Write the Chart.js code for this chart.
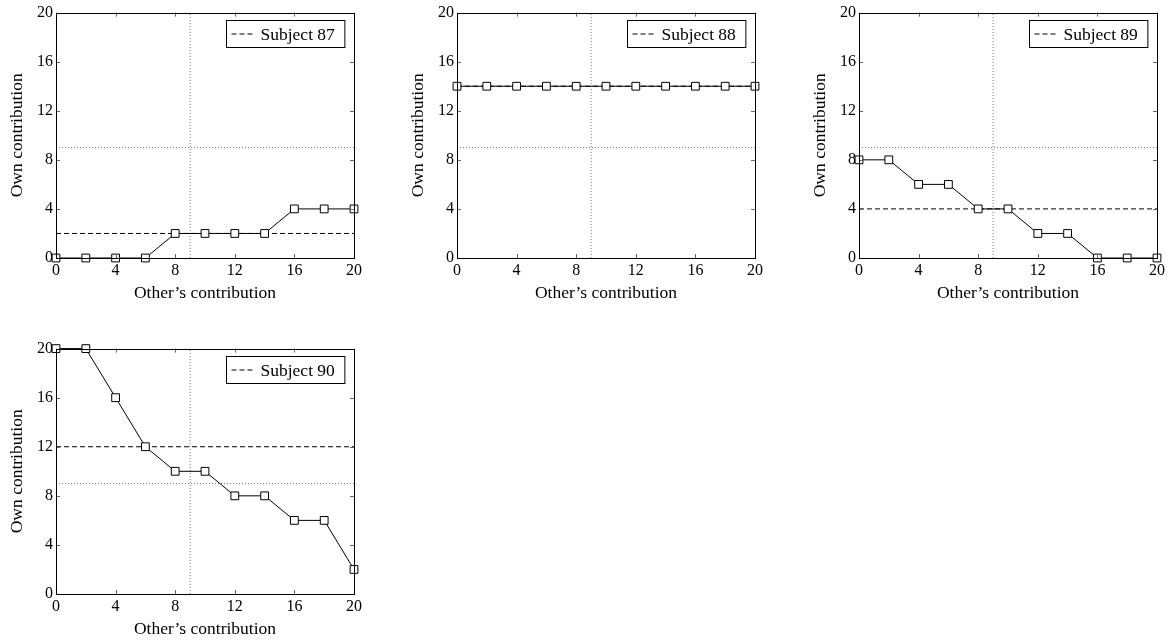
<!DOCTYPE html>
<html lang="en">
<head>
    <meta charset="UTF-8">
    <title>Own vs other's contribution</title>
    <script src="https://cdn.jsdelivr.net/npm/chart.js"></script>
    <style>
        body {
            margin: 0;
            padding: 0;
            background: #fff;
        }
        .panel {
            position: absolute;
            width: 370px;
            height: 304px;
        }
    </style>
</head>
<body>
    <canvas class="panel" id="c87" width="370" height="304" style="left:0px;top:0px"></canvas>
    <canvas class="panel" id="c88" width="370" height="304" style="left:401px;top:0px"></canvas>
    <canvas class="panel" id="c89" width="370" height="304" style="left:803px;top:0px"></canvas>
    <canvas class="panel" id="c90" width="370" height="304" style="left:0px;top:336px"></canvas>

    <script>
        // data
        const otherContribution = [0, 2, 4, 6, 8, 10, 12, 14, 16, 18, 20];
        const subject87 = [0, 0, 0, 0, 2, 2, 2, 2, 4, 4, 4];
        const subject88 = [14, 14, 14, 14, 14, 14, 14, 14, 14, 14, 14];
        const subject89 = [8, 8, 6, 6, 4, 4, 2, 2, 0, 0, 0];
        const subject90 = [20, 20, 16, 12, 10, 10, 8, 8, 6, 6, 2];
        const subjectIds = [87, 88, 89, 90];
        const subjectMeans = [2, 14, 4, 12];
        const referenceLevel = 9;
        const tickValues = [0, 4, 8, 12, 16, 20];

        const serif = "'Liberation Serif', 'DejaVu Serif', serif";

        // frame + inward ticks on all four sides
        const framePlugin = {
            id: 'frame',
            afterDatasetsDraw(chart) {
                const { ctx, chartArea: a, scales } = chart;
                ctx.save();
                ctx.strokeStyle = '#666';
                ctx.lineWidth = 1;
                ctx.beginPath();
                tickValues.forEach(v => {
                    const px = Math.round(scales.x.getPixelForValue(v)) + 0.5;
                    const py = Math.round(scales.y.getPixelForValue(v)) + 0.5;
                    ctx.moveTo(px, a.bottom); ctx.lineTo(px, a.bottom - 4);
                    ctx.moveTo(px, a.top); ctx.lineTo(px, a.top + 4);
                    ctx.moveTo(a.left, py); ctx.lineTo(a.left + 4, py);
                    ctx.moveTo(a.right, py); ctx.lineTo(a.right - 4, py);
                });
                ctx.stroke();
                ctx.strokeStyle = '#000';
                ctx.strokeRect(Math.round(a.left) + 0.5, Math.round(a.top) + 0.5,
                    Math.round(a.right - a.left), Math.round(a.bottom - a.top));
                ctx.restore();
            },
            afterDraw(chart) {
                // legend box in the upper right corner
                const { ctx, chartArea: a } = chart;
                const ds = chart.data.datasets[1];
                ctx.save();
                ctx.font = '17.5px ' + serif;
                const tw = ctx.measureText(ds.label).width;
                const w = tw + 44, h = 27;
                const x = Math.round(a.right - 10 - w) + 0.5, y = Math.round(a.top + 7) + 0.5;
                ctx.fillStyle = '#fff';
                ctx.fillRect(x, y, w, h);
                ctx.strokeStyle = '#000';
                ctx.lineWidth = 1;
                ctx.strokeRect(x, y, w, h);
                ctx.setLineDash([5, 3]);
                ctx.beginPath();
                ctx.moveTo(x + 5, y + h / 2);
                ctx.lineTo(x + 27, y + h / 2);
                ctx.stroke();
                ctx.fillStyle = '#000';
                ctx.textBaseline = 'middle';
                ctx.fillText(ds.label, x + 34, y + h / 2 + 1);
                ctx.restore();
            }
        };

        function makePanel(canvasId, id, values, mean) {
            const ctx = document.getElementById(canvasId).getContext('2d');
            return new Chart(ctx, {
                type: 'scatter',
                data: {
                    datasets: [
                        {
                            label: 'Responses',
                            data: otherContribution.map((x, i) => ({ x: x, y: values[i] })),
                            showLine: true,
                            borderColor: '#000',
                            borderWidth: 1,
                            pointStyle: 'rect',
                            pointRadius: 5.5,
                            pointBorderWidth: 1,
                            pointBorderColor: '#000',
                            pointBackgroundColor: '#fff',
                            clip: false
                        },
                        {
                            label: 'Subject ' + id,
                            data: [{ x: 0, y: mean }, { x: 20, y: mean }],
                            showLine: true,
                            borderColor: '#000',
                            borderWidth: 1,
                            borderDash: [5, 3],
                            pointRadius: 0
                        },
                        {
                            label: 'ref x',
                            data: [{ x: referenceLevel, y: 0 }, { x: referenceLevel, y: 20 }],
                            showLine: true,
                            borderColor: '#777',
                            borderWidth: 1,
                            borderDash: [1, 2],
                            pointRadius: 0
                        },
                        {
                            label: 'ref y',
                            data: [{ x: 0, y: referenceLevel }, { x: 20, y: referenceLevel }],
                            showLine: true,
                            borderColor: '#777',
                            borderWidth: 1,
                            borderDash: [1, 2],
                            pointRadius: 0
                        }
                    ]
                },
                options: {
                    responsive: false,
                    animation: false,
                    layout: { padding: { left: 0, top: 11, right: 16, bottom: 0 } },
                    plugins: {
                        legend: { display: false },
                        tooltip: { enabled: false }
                    },
                    scales: {
                        x: {
                            type: 'linear',
                            min: 0,
                            max: 20,
                            afterBuildTicks: s => { s.ticks = tickValues.map(v => ({ value: v })); },
                            afterFit: s => { s.height = 46; },
                            grid: { display: false, drawTicks: false },
                            border: { display: false },
                            ticks: { color: '#000', padding: 3, maxRotation: 0, font: { family: serif, size: 16 } },
                            title: { display: true, text: 'Other’s contribution', color: '#000', padding: 0, font: { family: serif, size: 17.5 } }
                        },
                        y: {
                            type: 'linear',
                            min: 0,
                            max: 20,
                            afterBuildTicks: s => { s.ticks = tickValues.map(v => ({ value: v })); },
                            afterFit: s => { s.width = 56; },
                            grid: { display: false, drawTicks: false },
                            border: { display: false },
                            ticks: { color: '#000', padding: 3, font: { family: serif, size: 16 } },
                            title: { display: true, text: 'Own contribution', color: '#000', padding: { top: 7, bottom: 0 }, font: { family: serif, size: 17.5 } }
                        }
                    }
                },
                plugins: [framePlugin]
            });
        }

        const allSeries = [subject87, subject88, subject89, subject90];
        ['c87', 'c88', 'c89', 'c90'].forEach((cid, i) => {
            makePanel(cid, subjectIds[i], allSeries[i], subjectMeans[i]);
        });
    </script>
</body>
</html>
